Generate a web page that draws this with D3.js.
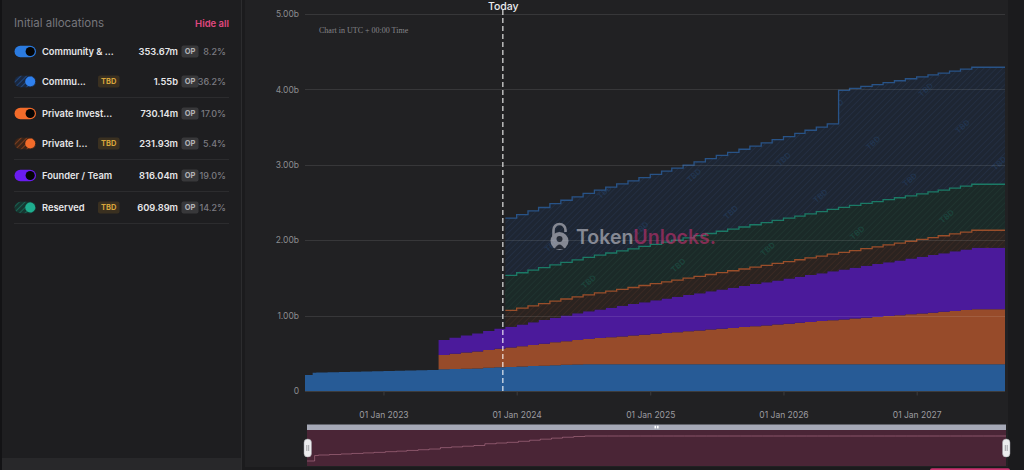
<!DOCTYPE html>
<html>
<head>
<meta charset="utf-8">
<script src="https://cdn.jsdelivr.net/npm/d3@7"></script>
<style>
  body { margin: 0; background: #1b1b1d; overflow: hidden; }
  svg { display: block; font-family: Inter, "Noto Sans", sans-serif; }
</style>
</head>
<body>
<svg id="chart" width="1024" height="470"></svg>
<script>
// ---- data (billions of OP) ----
var firstDates = ["2022-05-31", "2022-06-21"];
var monthlyDates = d3.utcMonth.range(new Date("2022-07-01"), new Date("2027-09-01"));
var dates = firstDates.map(function(s) { return new Date(s); }).concat(monthlyDates);
var endDate = new Date("2027-08-31");
var todayDate = new Date("2023-11-24");

var communityVals = [
  0.212, 0.243, 0.246, 0.249, 0.252, 0.255, 0.258, 0.261, 0.265, 0.268,
  0.272, 0.276, 0.280, 0.288, 0.292, 0.296, 0.300, 0.310, 0.314, 0.318,
  0.324, 0.330, 0.336, 0.342, 0.347, 0.351, 0.354, 0.354, 0.354, 0.354,
  0.354, 0.354, 0.354, 0.354, 0.354, 0.354, 0.354, 0.354, 0.354, 0.354,
  0.354, 0.354, 0.354, 0.354, 0.354, 0.354, 0.354, 0.354, 0.354, 0.354,
  0.354, 0.354, 0.354, 0.354, 0.354, 0.354, 0.354, 0.354, 0.354, 0.354,
  0.354, 0.354, 0.354, 0.354
];
var privateVals = [
  0, 0, 0, 0, 0, 0, 0, 0, 0, 0,
  0, 0, 0, 0.190, 0.201, 0.213, 0.224, 0.235, 0.246, 0.258,
  0.269, 0.280, 0.291, 0.303, 0.314, 0.325, 0.336, 0.348, 0.359, 0.370,
  0.381, 0.393, 0.404, 0.415, 0.426, 0.438, 0.449, 0.460, 0.471, 0.483,
  0.494, 0.505, 0.516, 0.528, 0.539, 0.550, 0.561, 0.573, 0.584, 0.595,
  0.606, 0.618, 0.629, 0.640, 0.651, 0.663, 0.674, 0.685, 0.696, 0.708,
  0.719, 0.730, 0.730, 0.730
];
var founderVals = [
  0, 0, 0, 0, 0, 0, 0, 0, 0, 0,
  0, 0, 0, 0.200, 0.213, 0.226, 0.238, 0.251, 0.264, 0.277,
  0.290, 0.303, 0.315, 0.328, 0.341, 0.354, 0.367, 0.380, 0.392, 0.405,
  0.418, 0.431, 0.444, 0.457, 0.469, 0.482, 0.495, 0.508, 0.521, 0.534,
  0.546, 0.559, 0.572, 0.585, 0.598, 0.611, 0.623, 0.636, 0.649, 0.662,
  0.675, 0.688, 0.700, 0.713, 0.726, 0.739, 0.752, 0.765, 0.777, 0.790,
  0.803, 0.816, 0.816, 0.816
];
var privateTbdVals = [
  0, 0, 0, 0, 0, 0, 0, 0, 0, 0,
  0, 0, 0, 0, 0, 0, 0, 0, 0, 0.216,
  0.216, 0.217, 0.217, 0.218, 0.218, 0.218, 0.219, 0.219, 0.220, 0.220,
  0.220, 0.221, 0.221, 0.222, 0.222, 0.222, 0.223, 0.223, 0.224, 0.224,
  0.224, 0.225, 0.225, 0.226, 0.226, 0.226, 0.227, 0.227, 0.228, 0.228,
  0.228, 0.229, 0.229, 0.230, 0.230, 0.230, 0.231, 0.231, 0.232, 0.232,
  0.232, 0.232, 0.232, 0.232
];
var reservedVals = [
  0, 0, 0, 0, 0, 0, 0, 0, 0, 0,
  0, 0, 0, 0, 0, 0, 0, 0, 0, 0.465,
  0.469, 0.474, 0.478, 0.483, 0.487, 0.491, 0.496, 0.500, 0.505, 0.509,
  0.513, 0.518, 0.522, 0.527, 0.531, 0.535, 0.540, 0.544, 0.549, 0.553,
  0.557, 0.562, 0.566, 0.571, 0.575, 0.579, 0.584, 0.588, 0.593, 0.597,
  0.598, 0.599, 0.600, 0.601, 0.602, 0.603, 0.604, 0.605, 0.606, 0.607,
  0.608, 0.610, 0.610, 0.610
];
var communityTbdVals = [
  0, 0, 0, 0, 0, 0, 0, 0, 0, 0,
  0, 0, 0, 0, 0, 0, 0, 0, 0, 0.758,
  0.771, 0.784, 0.797, 0.810, 0.823, 0.836, 0.849, 0.862, 0.875, 0.888,
  0.901, 0.914, 0.927, 0.940, 0.953, 0.966, 0.979, 0.992, 1.005, 1.018,
  1.031, 1.044, 1.057, 1.070, 1.083, 1.096, 1.109, 1.122, 1.135, 1.552,
  1.552, 1.552, 1.552, 1.552, 1.552, 1.552, 1.552, 1.552, 1.552, 1.552,
  1.552, 1.552, 1.552, 1.552
];

var yTicks = [0, 1, 2, 3, 4, 5];

var legendNames = ["Community & ...", "Commu...", "Private Invest...", "Private I...", "Founder / Team", "Reserved"];
var legendTbd = [false, true, false, true, false, true];
var legendAmounts = ["353.67m", "1.55b", "730.14m", "231.93m", "816.04m", "609.89m"];
var legendShares = ["8.2%", "36.2%", "17.0%", "5.4%", "19.0%", "14.2%"];

// ---- series setup ----
var keys = ["community", "private", "founder", "privateTbd", "reserved", "communityTbd"];
var valueLists = [communityVals, privateVals, founderVals, privateTbdVals, reservedVals, communityTbdVals];
var style = {
  community:    { fill: "#275b96" },
  private:      { fill: "#974b2a" },
  founder:      { fill: "#4b1a9b" },
  privateTbd:   { hatch: true, base: "#2b2320", stripe: "#3c2a23", line: "#9a4e2a" },
  reserved:     { hatch: true, base: "#1b2a28", stripe: "#203530", line: "#1b7a66" },
  communityTbd: { hatch: true, base: "#1e2633", stripe: "#243044", line: "#285387" }
};

var rows = dates.map(function(d, i) {
  var r = { date: d };
  keys.forEach(function(k, j) { r[k] = valueLists[j][i]; });
  return r;
});
// carry last step to the end of the range
var lastRow = Object.assign({}, rows[rows.length - 1], { date: endDate });
rows.push(lastRow);

var layers = d3.stack().keys(keys)(rows);

var svg = d3.select("#chart");
var defs = svg.append("defs");

// backgrounds
svg.append("rect").attr("width", 1024).attr("height", 470).attr("fill", "#1b1b1d");
svg.append("rect").attr("x", 245).attr("y", 0).attr("width", 763).attr("height", 467).attr("fill", "#212123");

// ---- left panel ----
var panel = svg.append("g");
panel.append("rect").attr("x", 0).attr("y", 0).attr("width", 2).attr("height", 470).attr("fill", "#131315");
panel.append("rect").attr("x", 2).attr("y", 0).attr("width", 240).attr("height", 470).attr("fill", "#1e1e20");
panel.append("rect").attr("x", 2).attr("y", 458).attr("width", 240).attr("height", 12).attr("fill", "#28282a");
panel.append("line").attr("x1", 241.5).attr("x2", 241.5).attr("y1", 0).attr("y2", 470)
  .attr("stroke", "#2c2c2e");

panel.append("text").attr("x", 14).attr("y", 27)
  .style("font-size", "11.5px").attr("fill", "#76767c")
  .text("Initial allocations");
panel.append("text").attr("x", 229).attr("y", 27).attr("text-anchor", "end")
  .style("font-size", "9.5px").style("font-weight", 600).attr("fill", "#e0487f")
  .text("Hide all");

var rowY = [51.5, 81.5, 113.5, 143.5, 175.5, 207.5];
var toggleColors = ["#2b7be0", "#2f80ed", "#f26b2a", "#f26b2a", "#6a1cf0", "#1fae8f"];
var toggleDark = ["", "#1a2840", "", "#3a2418", "", "#163630"];

[97.5, 159.5, 191.5, 223.5].forEach(function(yy) {
  panel.append("line").attr("x1", 14).attr("x2", 229).attr("y1", yy).attr("y2", yy)
    .attr("stroke", "#2c2c2e");
});

legendNames.forEach(function(name, i) {
  var cy = rowY[i];
  var g = panel.append("g");
  if (legendTbd[i]) {
    var pid = "tog" + i;
    var p = defs.append("pattern").attr("id", pid).attr("patternUnits", "userSpaceOnUse")
      .attr("width", 4).attr("height", 4).attr("patternTransform", "rotate(45)");
    p.append("rect").attr("width", 4).attr("height", 4).attr("fill", toggleDark[i]);
    p.append("line").attr("x1", 0).attr("x2", 0).attr("y1", 0).attr("y2", 4)
      .attr("stroke", toggleColors[i]).attr("stroke-opacity", 0.45).attr("stroke-width", 1.6);
    g.append("rect").attr("x", 14.5).attr("y", cy - 5.8).attr("width", 21.5).attr("height", 11.6)
      .attr("rx", 5.8).attr("fill", "url(#" + pid + ")");
    g.append("circle").attr("cx", 30.2).attr("cy", cy).attr("r", 5).attr("fill", toggleColors[i]);
    g.append("rect").attr("x", 98).attr("y", cy - 6).attr("width", 21.5).attr("height", 12)
      .attr("rx", 2).attr("fill", "#3a3020");
    g.append("text").attr("x", 108.8).attr("y", cy + 2.8).attr("text-anchor", "middle")
      .style("font-size", "7.5px").style("font-weight", 700).attr("fill", "#d8a53c").text("TBD");
  } else {
    g.append("rect").attr("x", 14.5).attr("y", cy - 5.8).attr("width", 21.5).attr("height", 11.6)
      .attr("rx", 5.8).attr("fill", toggleColors[i]);
    g.append("circle").attr("cx", 30.2).attr("cy", cy).attr("r", 4.6).attr("fill", "#050505");
  }
  g.append("text").attr("x", 42).attr("y", cy + 3.4)
    .style("font-size", "9.3px").style("font-weight", 600).attr("fill", "#e6e6e8").text(name);
  g.append("text").attr("x", 178).attr("y", cy + 3.4).attr("text-anchor", "end")
    .style("font-size", "9.3px").style("font-weight", 600).attr("fill", "#e6e6e8").text(legendAmounts[i]);
  g.append("rect").attr("x", 181.5).attr("y", cy - 6).attr("width", 17).attr("height", 12)
    .attr("rx", 2).attr("fill", "#38383a");
  g.append("text").attr("x", 190).attr("y", cy + 2.8).attr("text-anchor", "middle")
    .style("font-size", "7.5px").style("font-weight", 700).attr("fill", "#b4b4b8").text("OP");
  g.append("text").attr("x", 226).attr("y", cy + 3.4).attr("text-anchor", "end")
    .style("font-size", "9px").style("font-weight", 500).attr("fill", "#7b7b80").text(legendShares[i]);
});

// ---- main chart ----
var x = d3.scaleUtc().domain([dates[0], endDate]).range([305, 1005]);
var y = d3.scaleLinear().domain([0, 5]).range([391, 14]);

var area = d3.area()
  .curve(d3.curveStepAfter)
  .defined(function(d) { return d[1] - d[0] > 0; })
  .x(function(d) { return x(d.data.date); })
  .y0(function(d) { return y(d[0]); })
  .y1(function(d) { return y(d[1]); });

var topLine = d3.line()
  .curve(d3.curveStepAfter)
  .defined(function(d) { return d[1] - d[0] > 0; })
  .x(function(d) { return x(d.data.date); })
  .y(function(d) { return y(d[1]); });

// TBD stamp positions (a slanted lattice across the plot)
var stamps = [];
for (var m = -12; m <= 12; m++) {
  for (var n = -12; n <= 12; n++) {
    var sx = 875 + m * 89.5 + n * 36.8;
    var sy = 145 - m * 16.3 + n * 36.8;
    if (sx > 300 && sx < 1010 && sy > 10 && sy < 395) stamps.push([sx, sy]);
  }
}

var plot = svg.append("g");
layers.forEach(function(layer) {
  var s = style[layer.key];
  if (!s.hatch) {
    plot.append("path").attr("d", area(layer)).attr("fill", s.fill);
    return;
  }
  var pid = "hatch-" + layer.key;
  var p = defs.append("pattern").attr("id", pid).attr("patternUnits", "userSpaceOnUse")
    .attr("width", 4.4).attr("height", 4.4).attr("patternTransform", "rotate(45)");
  p.append("rect").attr("width", 4.4).attr("height", 4.4).attr("fill", s.base);
  p.append("line").attr("x1", 0).attr("x2", 0).attr("y1", 0).attr("y2", 4.4)
    .attr("stroke", s.stripe).attr("stroke-width", 1.4);

  plot.append("path").attr("d", area(layer)).attr("fill", "url(#" + pid + ")");

  defs.append("clipPath").attr("id", "clip-" + layer.key)
    .append("path").attr("d", area(layer));
  plot.append("g").attr("clip-path", "url(#clip-" + layer.key + ")")
    .selectAll("text").data(stamps).enter().append("text")
      .attr("transform", function(d) { return "translate(" + d[0] + "," + d[1] + ") rotate(-42)"; })
      .attr("text-anchor", "middle")
      .style("font-size", "8px").style("font-weight", 700)
      .attr("fill", s.line).attr("fill-opacity", 0.3)
      .text("TBD");
});
layers.forEach(function(layer) {
  var s = style[layer.key];
  if (!s.hatch) return;
  plot.append("path").attr("d", topLine(layer)).attr("fill", "none")
    .attr("stroke", s.line).attr("stroke-width", 1.3);
});

// grid
svg.append("g").selectAll("line").data(yTicks).enter().append("line")
  .attr("x1", 305).attr("x2", 1005)
  .attr("y1", function(d) { return Math.round(y(d)) + 0.5; })
  .attr("y2", function(d) { return Math.round(y(d)) + 0.5; })
  .attr("stroke", "#ffffff").attr("stroke-opacity", function(d) { return d === 0 ? 0.12 : 0.1; });

// y axis labels
var yAxis = svg.append("g").attr("transform", "translate(305,0)")
  .call(d3.axisLeft(y).tickValues(yTicks)
    .tickFormat(function(d) { return d === 0 ? "0" : d3.format(".2f")(d) + "b"; })
    .tickSize(0).tickPadding(6));
yAxis.select(".domain").remove();
yAxis.selectAll("text").attr("fill", "#8c8c90").style("font-size", "8.5px")
  .style("font-family", "Inter, sans-serif");

// x axis
var xAxis = svg.append("g").attr("transform", "translate(0,391.5)")
  .call(d3.axisBottom(x).ticks(d3.utcYear.every(1))
    .tickFormat(d3.utcFormat("%d %b %Y")).tickSize(4).tickPadding(16));
xAxis.select(".domain").remove();
xAxis.selectAll("line").attr("stroke", "#3c3c3e");
xAxis.selectAll("text").attr("fill", "#9c9ca0").style("font-size", "8.5px")
  .style("font-family", "Inter, sans-serif");

svg.append("text").attr("x", 319).attr("y", 33)
  .style("font-family", "'Liberation Serif', serif").style("font-size", "8px")
  .attr("fill", "#86868a").text("Chart in UTC + 00:00 Time");

// watermark
var wm = svg.append("g").attr("opacity", 0.62);
wm.append("path")
  .attr("d", "M553.5,236 v-6 a6,6 0 0 1 12,0 v2")
  .attr("fill", "none").attr("stroke", "#c4c4cc").attr("stroke-width", 2.6);
wm.append("circle").attr("cx", 559.5).attr("cy", 241).attr("r", 9).attr("fill", "#c4c4cc");
wm.append("circle").attr("cx", 559.5).attr("cy", 239).attr("r", 3).attr("fill", "#2a2d36");
wm.append("path").attr("d", "M554.5,249 q5,-9 10,0 z").attr("fill", "#2a2d36");
wm.append("text").attr("x", 576).attr("y", 243.5)
  .style("font-size", "19.5px").style("font-weight", 600)
  .call(function(t) {
    t.append("tspan").attr("fill", "#c4c4cc").text("Token");
    t.append("tspan").attr("fill", "#c2306e").text("Unlocks.");
  });

// today marker
var tx = x(todayDate);
svg.append("line").attr("x1", tx).attr("x2", tx).attr("y1", 10).attr("y2", 391)
  .attr("stroke", "#ffffff").attr("stroke-opacity", 0.7).attr("stroke-width", 1.5)
  .attr("stroke-dasharray", "5,3");
svg.append("text").attr("x", tx + 0.5).attr("y", 10).attr("text-anchor", "middle")
  .style("font-size", "10.5px").style("font-weight", 500).attr("fill", "#ececee").text("Today");

// ---- navigator ----
var xNav = d3.scaleUtc().domain([dates[0], endDate]).range([307, 1006]);
var yNav = d3.scaleLinear().domain(d3.extent(communityVals)).range([461, 436]);
var nav = svg.append("g");
nav.append("rect").attr("x", 307).attr("y", 430).attr("width", 699).attr("height", 36).attr("fill", "#4a2536");
nav.append("path")
  .datum(rows)
  .attr("d", d3.line().curve(d3.curveStepAfter)
    .x(function(d) { return xNav(d.date); })
    .y(function(d) { return yNav(d.community); }))
  .attr("fill", "none").attr("stroke", "#e59ab4").attr("stroke-opacity", 0.4).attr("stroke-width", 1);
nav.append("rect").attr("x", 307).attr("y", 424.5).attr("width", 699).attr("height", 5.5).attr("fill", "#a6a9b7");
nav.append("rect").attr("x", 654.5).attr("y", 425.8).attr("width", 1.6).attr("height", 2.6).attr("fill", "#ffffff");
nav.append("rect").attr("x", 657).attr("y", 425.8).attr("width", 1.6).attr("height", 2.6).attr("fill", "#ffffff");
[304, 1002.5].forEach(function(hx) {
  nav.append("rect").attr("x", hx).attr("y", 439).attr("width", 7.5).attr("height", 18).attr("rx", 3.6)
    .attr("fill", "#ececee").attr("stroke", "#9a9aa0").attr("stroke-width", 0.5);
  [hx + 2.8, hx + 4.7].forEach(function(lx) {
    nav.append("line").attr("x1", lx).attr("x2", lx).attr("y1", 445).attr("y2", 451)
      .attr("stroke", "#8c8c92").attr("stroke-width", 0.8);
  });
});
svg.append("rect").attr("x", 930).attr("y", 468.3).attr("width", 80).attr("height", 4).attr("rx", 2)
  .attr("fill", "#c8336f");
</script>
</body>
</html>
